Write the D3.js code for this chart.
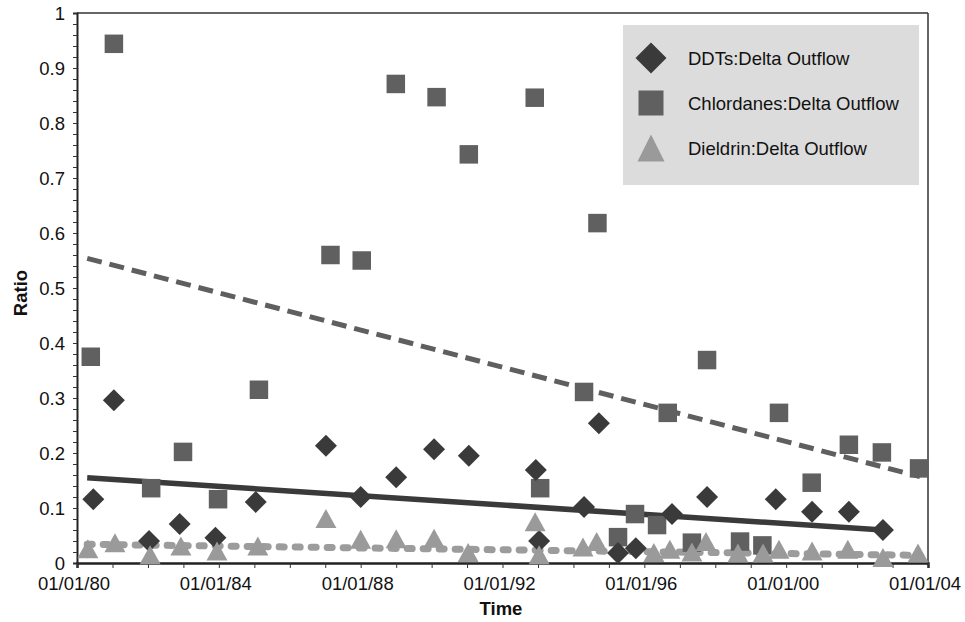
<!DOCTYPE html>
<html>
<head>
<meta charset="utf-8">
<script src="https://cdn.jsdelivr.net/npm/d3@7"></script>
<style>
  html, body { margin: 0; padding: 0; background: #ffffff; }
  svg { display: block; font-family: "Liberation Sans", Arial, Helvetica, sans-serif; }
</style>
</head>
<body>
<svg id="chart" width="965" height="622"></svg>
<script>
// Sampling dates and ratios for each pesticide group
const ddtDates = ["1980-06-17","1981-01-15","1982-01-12","1982-11-24","1983-11-27","1985-01-15",
  "1987-01-08","1988-01-01","1989-01-01","1990-01-26","1991-01-19","1992-12-09","1993-01-12",
  "1994-04-20","1994-09-20","1995-04-05","1995-10-05","1996-10-12","1997-10-08","1999-09-16",
  "2000-09-24","2001-10-08","2002-09-24"];
const ddtValues = [0.116,0.296,0.040,0.071,0.046,0.111,
  0.213,0.120,0.156,0.207,0.195,0.169,0.040,
  0.102,0.254,0.018,0.027,0.089,0.120,0.116,
  0.093,0.093,0.060];

const chlordaneDates = ["1980-05-22","1981-01-15","1982-02-03","1982-12-28","1983-12-24","1985-02-17",
  "1987-02-24","1988-01-12","1988-12-28","1990-02-21","1991-01-19","1992-11-28","1993-01-23",
  "1994-04-20","1994-09-05","1995-04-05","1995-09-27","1996-05-11","1996-08-29","1997-05-05",
  "1997-10-08","1998-09-13","1999-05-01","1999-10-19","2000-09-20","2001-10-08","2002-09-13",
  "2003-10-01"];
const chlordaneValues = [0.375,0.944,0.136,0.202,0.116,0.315,
  0.560,0.550,0.871,0.847,0.743,0.846,0.136,
  0.311,0.618,0.047,0.089,0.069,0.273,0.037,
  0.369,0.039,0.032,0.273,0.146,0.215,0.201,
  0.172];

const dieldrinDates = ["1980-04-22","1981-01-26","1982-01-23","1982-12-06","1983-12-13","1985-02-06",
  "1987-01-08","1988-01-01","1989-01-01","1990-01-26","1991-01-12","1992-12-02","1993-01-12",
  "1994-04-09","1994-08-28","1996-04-08","1996-09-20","1997-05-05","1997-09-27","1998-08-22",
  "1999-05-08","1999-10-19","2000-09-24","2001-09-27","2002-09-24","2003-09-20"];
const dieldrinValues = [0.026,0.037,0.015,0.031,0.022,0.031,
  0.081,0.043,0.044,0.045,0.019,0.075,0.015,
  0.029,0.039,0.019,0.025,0.020,0.039,0.018,
  0.018,0.025,0.022,0.025,0.010,0.018];

// Linear trend lines (start and end points)
const ddtTrendDates = ["1980-04-15","2002-09-24"];
const ddtTrendValues = [0.155,0.060];
const chlordaneTrendDates = ["1980-04-15","2003-10-10"];
const chlordaneTrendValues = [0.554,0.157];
const dieldrinTrendDates = ["1980-04-15","2003-10-10"];
const dieldrinTrendValues = [0.034,0.014];

const seriesNames = ["DDTs:Delta Outflow","Chlordanes:Delta Outflow","Dieldrin:Delta Outflow"];
const xTickLabels = ["01/01/80","01/01/84","01/01/88","01/01/92","01/01/96","01/01/00","01/01/04"];
const yTickLabels = ["0","0.1","0.2","0.3","0.4","0.5","0.6","0.7","0.8","0.9","1"];

const parse = d3.timeParse("%Y-%m-%d");
const parseTick = d3.timeParse("%m/%d/%y");
const zip = (ds, vs) => ds.map((d, i) => ({ date: parse(d), value: vs[i] }));

const svg = d3.select("#chart");
const plotLeft = 77, plotRight = 928, plotTop = 13, plotBottom = 563;

const x = d3.scaleTime()
  .domain([new Date(1980, 0, 1), new Date(2004, 0, 1)])
  .range([plotLeft, plotRight]);
const y = d3.scaleLinear().domain([0, 1]).range([plotBottom, plotTop]);

// Frame: top and right border
svg.append("line").attr("x1", plotLeft).attr("x2", plotRight).attr("y1", plotTop).attr("y2", plotTop)
  .attr("stroke", "#333").attr("stroke-width", 1.5);
svg.append("line").attr("x1", plotRight).attr("x2", plotRight).attr("y1", plotTop).attr("y2", plotBottom)
  .attr("stroke", "#333").attr("stroke-width", 1.5);

// Y axis: minor ticks every 0.02, labels every 0.1
const yAxis = d3.axisLeft(y)
  .tickValues(d3.range(0, 1.0001, 0.02))
  .tickSize(4)
  .tickFormat(() => "");
const yg = svg.append("g").attr("transform", `translate(${plotLeft},0)`).call(yAxis);
yg.select(".domain").attr("stroke", "#222").attr("stroke-width", 2);
yg.selectAll(".tick line").attr("stroke", "#333").attr("stroke-width", 1);

svg.append("g").selectAll("text").data(yTickLabels).join("text")
  .attr("x", 65)
  .attr("y", d => y(+d))
  .attr("dy", "0.36em")
  .attr("text-anchor", "end")
  .attr("font-size", 18.5)
  .attr("fill", "#111")
  .text(d => d);

// X axis: yearly ticks, labels every four years
const xAxis = d3.axisBottom(x)
  .ticks(d3.timeYear.every(1))
  .tickSize(5)
  .tickFormat(() => "");
const xg = svg.append("g").attr("transform", `translate(0,${plotBottom})`).call(xAxis);
xg.select(".domain").attr("stroke", "#222").attr("stroke-width", 2.5);
xg.selectAll(".tick line").attr("stroke", "#333").attr("stroke-width", 1);

svg.append("g").selectAll("text").data(xTickLabels).join("text")
  .attr("x", d => x(parseTick(d)) - 3)
  .attr("y", 590)
  .attr("text-anchor", "middle")
  .attr("font-size", 18.5)
  .attr("fill", "#111")
  .text(d => d);

// Axis titles
svg.append("text").attr("x", 501).attr("y", 615)
  .attr("text-anchor", "middle").attr("font-size", 18.5).attr("font-weight", "bold")
  .attr("fill", "#111").text("Time");
svg.append("text").attr("transform", "translate(27,293) rotate(-90)")
  .attr("text-anchor", "middle").attr("font-size", 18.5).attr("font-weight", "bold")
  .attr("fill", "#111").text("Ratio");

// Trend lines
const line = d3.line().x(d => x(d.date)).y(d => y(d.value));
svg.append("path").datum(zip(dieldrinTrendDates, dieldrinTrendValues))
  .attr("d", line).attr("fill", "none").attr("stroke", "#9c9c9c")
  .attr("stroke-width", 7).attr("stroke-linecap", "round").attr("stroke-dasharray", "5 11");
svg.append("path").datum(zip(chlordaneTrendDates, chlordaneTrendValues))
  .attr("d", line).attr("fill", "none").attr("stroke", "#5f5f5f")
  .attr("stroke-width", 5).attr("stroke-dasharray", "15 8");
svg.append("path").datum(zip(ddtTrendDates, ddtTrendValues))
  .attr("d", line).attr("fill", "none").attr("stroke", "#3a3a3a")
  .attr("stroke-width", 5.5);

// Marker shapes
const diamond = r => `M0,${-r}L${r},0L0,${r}L${-r},0Z`;
const square = s => `M${-s/2},${-s/2}h${s}v${s}h${-s}Z`;
const triangle = (w, h) => `M0,${-h/2}L${w/2},${h/2}L${-w/2},${h/2}Z`;

const colors = { ddt: "#3a3a3a", chl: "#606060", die: "#9a9a9a" };

svg.append("g").selectAll("path").data(zip(chlordaneDates, chlordaneValues)).join("path")
  .attr("transform", d => `translate(${x(d.date)},${y(d.value)})`)
  .attr("d", square(18.5)).attr("fill", colors.chl);

svg.append("g").selectAll("path").data(zip(ddtDates, ddtValues)).join("path")
  .attr("transform", d => `translate(${x(d.date)},${y(d.value)})`)
  .attr("d", diamond(11)).attr("fill", colors.ddt);

svg.append("g").selectAll("path").data(zip(dieldrinDates, dieldrinValues)).join("path")
  .attr("transform", d => `translate(${x(d.date)},${y(d.value)})`)
  .attr("d", triangle(21, 19)).attr("fill", colors.die);

// Legend
const legend = svg.append("g");
legend.append("rect").attr("x", 623).attr("y", 25).attr("width", 296).attr("height", 160)
  .attr("fill", "#dcdcdc");
const legendShapes = [diamond(15.5), square(25), triangle(27, 27)];
const legendColors = [colors.ddt, colors.chl, colors.die];
const rows = legend.selectAll("g.item").data(seriesNames).join("g")
  .attr("class", "item")
  .attr("transform", (d, i) => `translate(651,${58 + i * 45})`);
rows.append("path").attr("d", (d, i) => legendShapes[i]).attr("fill", (d, i) => legendColors[i]);
rows.append("text").attr("x", 37).attr("dy", "0.36em")
  .attr("font-size", 18.5).attr("fill", "#111").text(d => d);
</script>
</body>
</html>
